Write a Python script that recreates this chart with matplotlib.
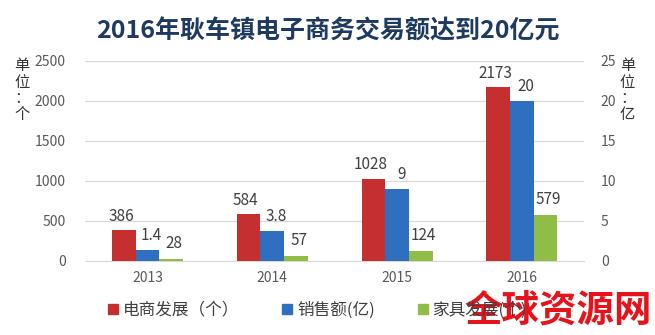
import matplotlib
matplotlib.use("Agg")
import matplotlib.pyplot as plt
from matplotlib.lines import Line2D
import numpy as np

plt.rcParams['font.family'] = ['Noto Sans CJK SC', 'DejaVu Sans']

years = ['2013', '2014', '2015', '2016']
ecommerce = [386, 584, 1028, 2173]        # 电商发展（个）, left axis
sales = [1.4, 3.8, 9, 20]                 # 销售额(亿), right axis
furniture = [28, 57, 124, 579]            # 家具发展(个), left axis
sales_labels = ['1.4', '3.8', '9', '20']

c_red = '#C62F2F'
c_blue = '#2F6FC0'
c_green = '#8FBD45'
tick_c = '#595959'
lab_c = '#404040'

fig = plt.figure(figsize=(6.55, 3.35), dpi=100)
fig.patch.set_facecolor('white')
ax = fig.add_axes([0.130, 0.221, 0.762, 0.597])
ax2 = ax.twinx()

x = np.arange(len(years))
w = 0.19

ax.bar(x - w, ecommerce, width=w, color=c_red, zorder=3)
ax.bar(x + w, furniture, width=w, color=c_green, zorder=3)
ax2.bar(x, sales, width=w, color=c_blue, zorder=3)

ax.set_xlim(-0.5, 3.5)
ax.set_ylim(0, 2500)
ax2.set_ylim(0, 25)
ax.set_yticks(np.arange(0, 2501, 500))
ax2.set_yticks(np.arange(0, 26, 5))
ax.set_xticks(x)
ax.set_xticklabels(years)

ax.grid(axis='y', color='#D9D9D9', linewidth=0.9, zorder=0)
for a in (ax, ax2):
    for s in a.spines.values():
        s.set_visible(False)
    a.tick_params(length=0, colors=tick_c, labelsize=10)
ax.spines['bottom'].set_visible(True)
ax.spines['bottom'].set_color('#D9D9D9')
ax.tick_params(axis='y', pad=14)
ax2.tick_params(axis='y', pad=12)
ax.tick_params(axis='x', pad=7)

for i in range(len(years)):
    ax.annotate(str(ecommerce[i]), (x[i] - w, ecommerce[i]), xytext=(-2, 4),
                textcoords='offset points', ha='center', va='bottom',
                fontsize=11, color=lab_c)
    ax2.annotate(sales_labels[i], (x[i], sales[i]), xytext=(3, 4),
                 textcoords='offset points', ha='center', va='bottom',
                 fontsize=11, color=lab_c)
    ax.annotate(str(furniture[i]), (x[i] + w, furniture[i]), xytext=(2, 5),
                textcoords='offset points', ha='center', va='bottom',
                fontsize=11, color=lab_c)

fig.text(0.5, 0.905, '2016年耿车镇电子商务交易额达到20亿元', ha='center', va='center',
         fontsize=18, fontweight='bold', color='#1F3A60')

fig.text(0.034, 0.73, '单\n位\n：\n个', ha='center', va='center', fontsize=11,
         color='#333333', linespacing=0.95)
fig.text(0.958, 0.73, '单\n位\n：\n亿', ha='center', va='center', fontsize=11,
         color='#333333', linespacing=0.95)

handles = [Line2D([], [], marker='s', linestyle='none', markersize=7, color=c_red),
           Line2D([], [], marker='s', linestyle='none', markersize=7, color=c_blue),
           Line2D([], [], marker='s', linestyle='none', markersize=7, color=c_green)]
fig.legend(handles, ['电商发展（个）', '销售额(亿)', '家具发展(个)'], ncol=3,
           loc='center', bbox_to_anchor=(0.485, 0.075), frameon=False,
           fontsize=12, handlelength=0.6, handletextpad=0.3, columnspacing=2.6,
           labelcolor='#404040')

fig.text(0.852, 0.075, '全球资源网', ha='center', va='center', fontsize=27,
         fontweight='heavy', color='#E5141C')

fig.savefig('out.png', dpi=100)
